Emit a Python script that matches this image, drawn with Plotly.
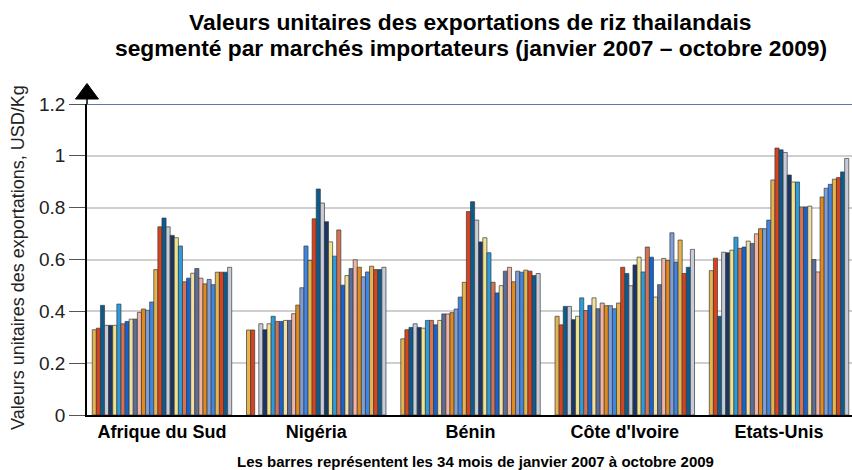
import plotly.graph_objects as go

markets = ["Afrique du Sud", "Nigéria", "Bénin", "Côte d'Ivoire", "Etats-Unis"]

afrique_du_sud = [0.329, 0.335, 0.423, 0.346, 0.346, 0.346, 0.428, 0.352, 0.361, 0.370,
                  0.370, 0.396, 0.409, 0.404, 0.436, 0.561, 0.726, 0.760, 0.726, 0.693,
                  0.684, 0.652, 0.514, 0.528, 0.547, 0.565, 0.528, 0.506, 0.523, 0.503,
                  0.551, 0.551, 0.551, 0.570]
nigeria = [0.328, 0.328, None, 0.352, 0.329, 0.352, 0.381, 0.361, 0.361, 0.365,
           0.365, 0.391, 0.424, 0.491, 0.652, 0.596, 0.757, 0.872, 0.818, 0.746,
           0.668, 0.613, 0.714, 0.501, 0.538, 0.565, 0.599, 0.570, 0.533, 0.552,
           0.574, 0.561, 0.561, 0.570]
benin = [0.294, 0.329, 0.338, 0.352, 0.338, 0.335, 0.365, 0.365, 0.348, 0.365,
         0.390, 0.390, 0.395, 0.409, 0.455, 0.512, 0.785, 0.823, 0.752, 0.668,
         0.684, 0.626, 0.512, 0.471, 0.499, 0.555, 0.570, 0.514, 0.555, 0.551,
         0.559, 0.555, 0.538, 0.546]
cote_divoire = [0.381, 0.348, 0.419, 0.419, 0.368, 0.381, 0.452, 0.403, 0.423, 0.452,
                0.410, 0.432, 0.422, 0.422, 0.410, 0.432, 0.570, 0.546, 0.499, 0.579,
                0.609, 0.552, 0.648, 0.609, 0.455, 0.503, 0.604, 0.596, 0.703, 0.590,
                0.675, 0.546, 0.570, 0.639]
etats_unis = [0.557, 0.605, 0.381, 0.628, 0.626, 0.636, 0.686, 0.643, 0.648, 0.671,
              0.662, 0.699, 0.719, 0.719, 0.752, 0.907, 1.030, 1.023, 1.013, 0.926,
              0.899, 0.899, 0.803, 0.803, 0.806, 0.600, 0.552, 0.841, 0.875, 0.890,
              0.910, 0.916, 0.938, 0.990]

months = ["janv. 2007", "févr. 2007", "mars 2007", "avr. 2007", "mai 2007", "juin 2007",
          "juil. 2007", "août 2007", "sept. 2007", "oct. 2007", "nov. 2007", "déc. 2007",
          "janv. 2008", "févr. 2008", "mars 2008", "avr. 2008", "mai 2008", "juin 2008",
          "juil. 2008", "août 2008", "sept. 2008", "oct. 2008", "nov. 2008", "déc. 2008",
          "janv. 2009", "févr. 2009", "mars 2009", "avr. 2009", "mai 2009", "juin 2009",
          "juil. 2009", "août 2009", "sept. 2009", "oct. 2009"]

palette = ["#E4B44E", "#D8431D", "#0C5B8F", "#C6CDD9", "#1B3665", "#F1E38C", "#2A9DDF",
           "#D8714F", "#1263D4", "#F3DFA2", "#5B6E98", "#F1B4A4", "#E38A1D", "#7C9FD8",
           "#3E86E4"]

series = [afrique_du_sud, nigeria, benin, cote_divoire, etats_unis]

fig = go.Figure()
for i, m in enumerate(months):
    fig.add_trace(go.Bar(
        x=markets,
        y=[s[i] for s in series],
        name=m,
        marker=dict(color=palette[i % len(palette)],
                    line=dict(color="#3a3a3a", width=0.7)),
        showlegend=False,
    ))

fig.update_layout(
    width=852, height=470,
    margin=dict(l=87, r=0, t=104, b=55),
    paper_bgcolor="white", plot_bgcolor="white",
    barmode="group", bargap=0.096, bargroupgap=0,
    font=dict(family="Liberation Sans, Arial, sans-serif", color="#111"),
    xaxis=dict(
        range=[-0.486, 4.473],
        showline=True, linecolor="#000", linewidth=1.5,
        ticks="", tickfont=dict(size=18, weight="bold", color="#000"),
        showgrid=False, fixedrange=True,
    ),
    yaxis=dict(
        range=[0, 1.2],
        tickvals=[0, 0.2, 0.4, 0.6, 0.8, 1, 1.2],
        ticktext=["0", "0.2", "0.4", "0.6", "0.8", "1", "1.2"],
        showline=True, linecolor="#000", linewidth=1.5,
        ticks="outside", ticklen=16, tickcolor="#555", tickwidth=1,
        tickfont=dict(size=19, color="#222"),
        showgrid=True, gridcolor="#CFCFCF", gridwidth=1.5,
        zeroline=False, fixedrange=True,
    ),
    annotations=[
        dict(text="<b>Valeurs unitaires des exportations de riz thailandais</b>",
             xref="paper", yref="paper", x=(470 - 87) / 765, y=(415 - 22) / 311,
             xanchor="center", yanchor="middle", showarrow=False,
             font=dict(size=22.8, color="#000")),
        dict(text="<b>segmenté par marchés importateurs (janvier 2007 – octobre 2009)</b>",
             xref="paper", yref="paper", x=(471 - 87) / 765, y=(415 - 48) / 311,
             xanchor="center", yanchor="middle", showarrow=False,
             font=dict(size=22.8, color="#000")),
        dict(text="Valeurs unitaires des exportations, USD/Kg",
             xref="paper", yref="paper", x=(18 - 87) / 765, y=(415 - 258) / 311,
             xanchor="center", yanchor="middle", textangle=-90,
             showarrow=False, font=dict(size=18, color="#222")),
        dict(text="<b>Les barres représentent les 34 mois de janvier 2007 à octobre 2009</b>",
             xref="paper", yref="paper", x=(475 - 87) / 765, y=(415 - 461) / 311,
             xanchor="center", yanchor="middle",
             showarrow=False, font=dict(size=15, color="#000")),
    ],
    shapes=[
        dict(type="line", xref="paper", yref="y", x0=0, x1=1, y0=1.2, y1=1.2,
             line=dict(color="#5877AE", width=1.8), layer="above"),
        dict(type="line", xref="paper", yref="paper", x0=0, x1=0, y0=1, y1=1.03,
             line=dict(color="#000", width=1.5)),
        dict(type="path", xref="paper", yref="paper",
             path="M -0.015,1.016 L 0.015,1.016 L 0,1.066 Z",
             fillcolor="#000", line=dict(color="#000", width=1)),
    ],
)

fig.write_html("out.html", config={"displayModeBar": False},
               post_script="document.body.style.margin='0';")
